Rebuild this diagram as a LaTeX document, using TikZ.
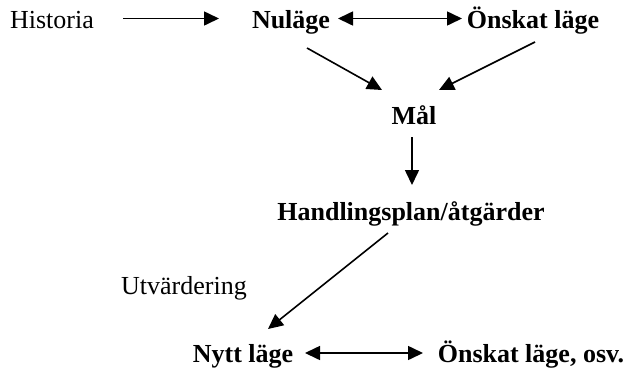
\documentclass[tikz,border=0pt]{standalone}
\usepackage{fontspec}
\setmainfont{Liberation Serif}
\usetikzlibrary{arrows.meta}
\begin{document}
\begin{tikzpicture}[x=1pt,y=-1pt,
  lbl/.style={inner sep=0pt,anchor=base,font=\fontsize{26}{30}\selectfont},
  blbl/.style={lbl,font=\fontsize{26}{30}\selectfont\bfseries},
  head/.style={Triangle[length=15pt,width=14pt]},
  link/.style={line width=1.6pt,-{Triangle[length=15pt,width=14pt]}},
  twoway/.style={line width=1.6pt,{Triangle[length=15pt,width=14pt]}-{Triangle[length=15pt,width=14pt]}}]
\useasboundingbox (0,0) rectangle (630,368);
% text
\node[lbl]  (hist) at (52,28)  {Historia};
\node[blbl] (nul)  at (291,28) {Nuläge};
\node[blbl] (onsk) at (533,28) {Önskat läge};
\node[blbl] (mal)  at (414,124) {Mål};
\node[blbl] (hand) at (411,220) {Handlingsplan/åtgärder};
\node[lbl]  (utv)  at (184,294) {Utvärdering};
\node[blbl] (nytt) at (243,362) {Nytt läge};
\node[blbl] (osv)  at (531,362) {Önskat läge, osv.};
% connectors
\draw[link] ([shift={(71,-9.5)}]hist.base) -- ([shift={(-72,-9.5)}]nul.base);
\draw[twoway] ([shift={(47,-9.5)}]nul.base) -- ([shift={(-71,-9.5)}]onsk.base);
\draw[link] ([shift={(16,20)}]nul.base) -- ([shift={(-32,-34)}]mal.base);
\draw[link] ([shift={(2,14)}]onsk.base) -- ([shift={(25,-34)}]mal.base);
\draw[link] ([shift={(-2,13)}]mal.base) -- ([shift={(1,-35)}]hand.base);
\draw[link] ([shift={(-23,13)}]hand.base) -- ([shift={(25,-33)}]nytt.base);
\draw[twoway] ([shift={(62,-9)}]nytt.base) -- ([shift={(-108,-9)}]osv.base);
\end{tikzpicture}
\end{document}
